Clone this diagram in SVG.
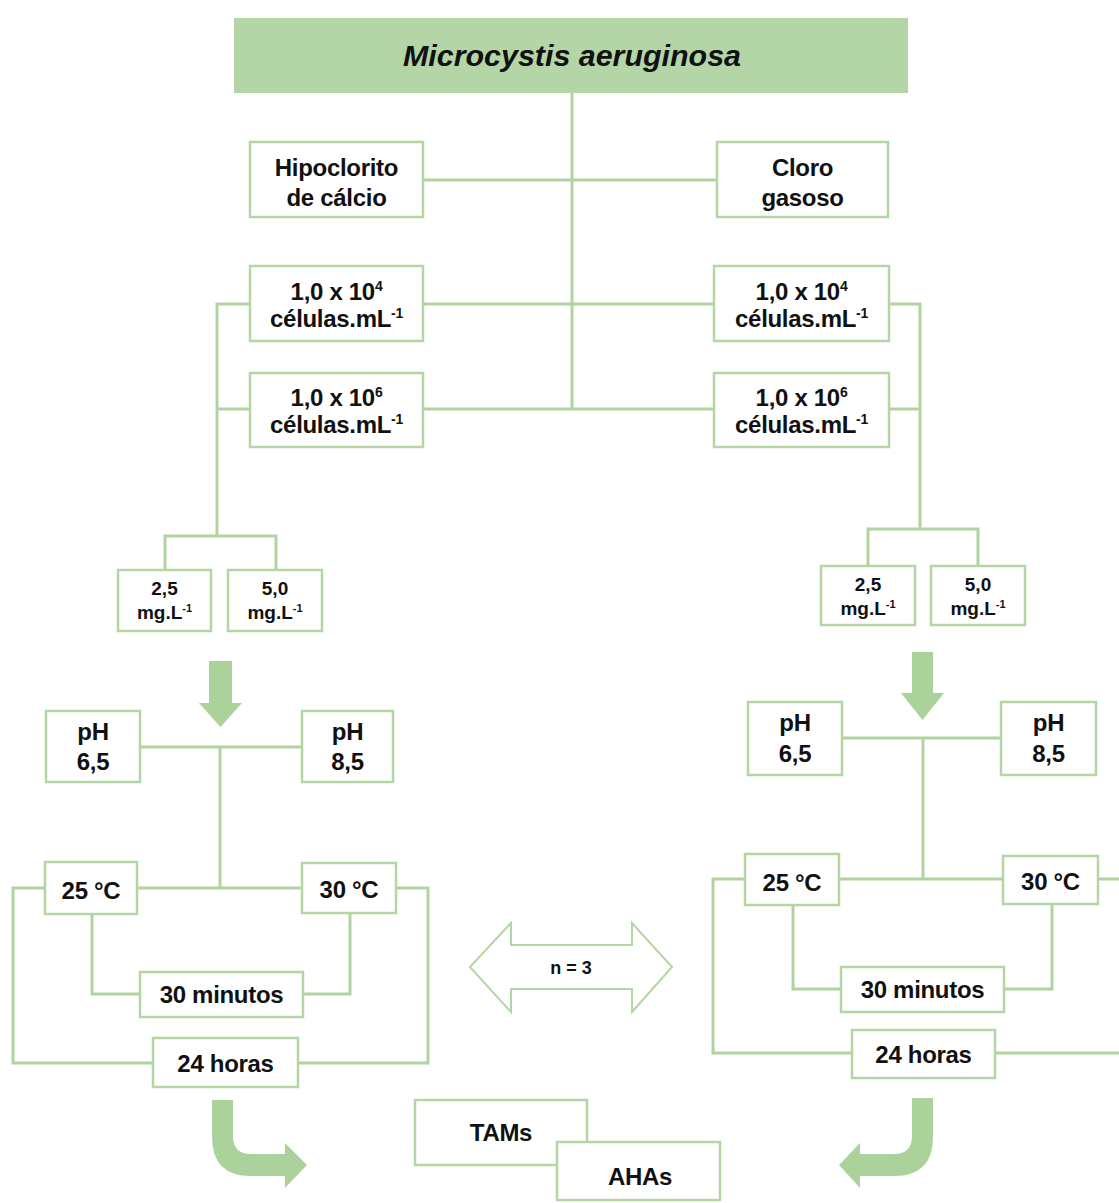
<svg xmlns="http://www.w3.org/2000/svg" width="1119" height="1203" viewBox="0 0 1119 1203">
  <style>
    .box { fill: #ffffff; stroke: #b3d6a4; stroke-width: 2.5; }
    .head { fill: #b4d6a6; stroke: none; }
    .ln { fill: none; stroke: #b0d4a0; stroke-width: 3; }
    .arrow { fill: #abd29b; stroke: none; }
    .dbl { fill: #ffffff; stroke: #b3d6a4; stroke-width: 2; }
    text { font-family: "Liberation Sans", Arial, sans-serif; font-weight: bold; fill: #111111; text-anchor: middle; }
    .t { font-size: 24px; letter-spacing: -0.3px; }
    .s { font-size: 19px; }
    .title { font-size: 30px; font-style: italic; }
    .n { font-size: 18px; }
  </style>

  <rect width="1119" height="1203" fill="#ffffff"/>

  <!-- connectors -->
  <g id="connectors">
    <!-- trunk and first branches -->
    <path class="ln" d="M572,93 V409"/>
    <path class="ln" d="M423,180 H717"/>
    <path class="ln" d="M423,304 H714 M423,409 H714"/>
    <!-- left concentration bracket -->
    <path class="ln" d="M250,304 H217 V536 M250,409 H217"/>
    <path class="ln" d="M165,570 V536 H276 V570"/>
    <!-- right concentration bracket -->
    <path class="ln" d="M889,304 H920 V529 M889,409 H920"/>
    <path class="ln" d="M868,566 V529 H978 V566"/>
    <!-- left pH / temperature tree -->
    <path class="ln" d="M140,747 H302 M220,747 V888 M137,888 H302"/>
    <path class="ln" d="M45,888 H13 V1063 H153"/>
    <path class="ln" d="M396,888 H428 V1063 H298"/>
    <path class="ln" d="M92,914 V994 H140 M350,913 V994 H303"/>
    <!-- right pH / temperature tree -->
    <path class="ln" d="M842,738 H1001 M923,738 V879 M839,879 H1003"/>
    <path class="ln" d="M745,879 H713 V1053 H852"/>
    <path class="ln" d="M1098,879 H1119 M995,1053 H1119"/>
    <path class="ln" d="M793,905 V989 H842 M1052,904 V989 H1004"/>
    <!-- block arrows -->
    <polygon class="arrow" points="209,661 232,661 232,703 242,703 220.5,727 199,703 209,703"/>
    <polygon class="arrow" points="912,652 933,652 933,693 944,693 922.5,720 901,693 912,693"/>
    <path class="arrow" d="M212,1100 H233 V1136 Q233,1154 251,1154 H285 V1143 L307,1165 L285,1188 V1176 H251 Q212,1176 212,1137 Z"/>
    <path class="arrow" d="M933,1098 H912 V1136 Q912,1154 894,1154 H860 V1143 L839,1165 L860,1188 V1176 H894 Q933,1176 933,1137 Z"/>
  </g>

  <!-- nodes -->
  <g id="n-species">
    <rect class="head" x="234" y="18" width="674" height="75"/>
    <text class="title" x="572" y="66" textLength="338" lengthAdjust="spacingAndGlyphs">Microcystis aeruginosa</text>
  </g>

  <g id="n-hipoclorito">
    <rect class="box" x="250" y="142" width="173" height="75"/>
    <text class="t" x="336.5" y="176">Hipoclorito</text>
    <text class="t" x="336.5" y="206">de cálcio</text>
  </g>
  <g id="n-cloro">
    <rect class="box" x="717" y="142" width="171" height="75"/>
    <text class="t" x="802.5" y="176">Cloro</text>
    <text class="t" x="802.5" y="206">gasoso</text>
  </g>

  <g id="n-hc-1e4">
    <rect class="box" x="250" y="266" width="173" height="75"/>
    <text class="t" x="336.5" y="300">1,0 x 10<tspan font-size="14" dy="-9">4</tspan></text>
    <text class="t" x="336.5" y="327">células.mL<tspan font-size="14" dy="-9">-1</tspan></text>
  </g>
  <g id="n-hc-1e6">
    <rect class="box" x="250" y="373" width="173" height="74"/>
    <text class="t" x="336.5" y="406">1,0 x 10<tspan font-size="14" dy="-9">6</tspan></text>
    <text class="t" x="336.5" y="433">células.mL<tspan font-size="14" dy="-9">-1</tspan></text>
  </g>
  <g id="n-cg-1e4">
    <rect class="box" x="714" y="266" width="175" height="75"/>
    <text class="t" x="801.5" y="300">1,0 x 10<tspan font-size="14" dy="-9">4</tspan></text>
    <text class="t" x="801.5" y="327">células.mL<tspan font-size="14" dy="-9">-1</tspan></text>
  </g>
  <g id="n-cg-1e6">
    <rect class="box" x="714" y="373" width="175" height="74"/>
    <text class="t" x="801.5" y="406">1,0 x 10<tspan font-size="14" dy="-9">6</tspan></text>
    <text class="t" x="801.5" y="433">células.mL<tspan font-size="14" dy="-9">-1</tspan></text>
  </g>

  <g id="n-hc-25">
    <rect class="box" x="118" y="570" width="93" height="61"/>
    <text class="s" x="164.5" y="595">2,5</text>
    <text class="s" x="164.5" y="619">mg.L<tspan font-size="11" dy="-7">-1</tspan></text>
  </g>
  <g id="n-hc-50">
    <rect class="box" x="228" y="570" width="94" height="61"/>
    <text class="s" x="275" y="595">5,0</text>
    <text class="s" x="275" y="619">mg.L<tspan font-size="11" dy="-7">-1</tspan></text>
  </g>
  <g id="n-cg-25">
    <rect class="box" x="821" y="566" width="94" height="59"/>
    <text class="s" x="868" y="591">2,5</text>
    <text class="s" x="868" y="615">mg.L<tspan font-size="11" dy="-7">-1</tspan></text>
  </g>
  <g id="n-cg-50">
    <rect class="box" x="931" y="566" width="94" height="59"/>
    <text class="s" x="978" y="591">5,0</text>
    <text class="s" x="978" y="615">mg.L<tspan font-size="11" dy="-7">-1</tspan></text>
  </g>

  <g id="n-l-ph65">
    <rect class="box" x="46" y="711" width="94" height="71"/>
    <text class="t" x="93" y="740">pH</text>
    <text class="t" x="93" y="770">6,5</text>
  </g>
  <g id="n-l-ph85">
    <rect class="box" x="302" y="711" width="91" height="71"/>
    <text class="t" x="347.5" y="740">pH</text>
    <text class="t" x="347.5" y="770">8,5</text>
  </g>
  <g id="n-r-ph65">
    <rect class="box" x="748" y="702" width="94" height="73"/>
    <text class="t" x="795" y="731">pH</text>
    <text class="t" x="795" y="762">6,5</text>
  </g>
  <g id="n-r-ph85">
    <rect class="box" x="1001" y="702" width="95" height="73"/>
    <text class="t" x="1048.5" y="731">pH</text>
    <text class="t" x="1048.5" y="762">8,5</text>
  </g>

  <g id="n-l-t25">
    <rect class="box" x="45" y="862" width="92" height="52"/>
    <text class="t" x="91" y="899">25 °C</text>
  </g>
  <g id="n-l-t30">
    <rect class="box" x="302" y="863" width="94" height="50"/>
    <text class="t" x="349" y="898">30 °C</text>
  </g>
  <g id="n-r-t25">
    <rect class="box" x="745" y="854" width="94" height="51"/>
    <text class="t" x="792" y="891">25 °C</text>
  </g>
  <g id="n-r-t30">
    <rect class="box" x="1003" y="856" width="95" height="48"/>
    <text class="t" x="1050.5" y="890">30 °C</text>
  </g>

  <g id="n-l-30min">
    <rect class="box" x="140" y="972" width="163" height="45"/>
    <text class="t" x="221.5" y="1003">30 minutos</text>
  </g>
  <g id="n-l-24h">
    <rect class="box" x="153" y="1038" width="145" height="49"/>
    <text class="t" x="225.5" y="1072">24 horas</text>
  </g>
  <g id="n-r-30min">
    <rect class="box" x="841" y="967" width="163" height="45"/>
    <text class="t" x="922.5" y="998">30 minutos</text>
  </g>
  <g id="n-r-24h">
    <rect class="box" x="852" y="1030" width="143" height="48"/>
    <text class="t" x="923.5" y="1063">24 horas</text>
  </g>

  <g id="n-replicates">
    <polygon class="dbl" points="470,967 511,923 511,945 632,945 632,923 672,967 632,1012 632,989 511,989 511,1012"/>
    <text class="n" x="571" y="974">n = 3</text>
  </g>

  <g id="n-tams">
    <rect class="box" x="415" y="1100" width="172" height="65"/>
    <text class="t" x="501" y="1141">TAMs</text>
  </g>
  <g id="n-ahas">
    <rect class="box" x="557" y="1142" width="163" height="58"/>
    <text class="t" x="640" y="1185">AHAs</text>
  </g>
</svg>
